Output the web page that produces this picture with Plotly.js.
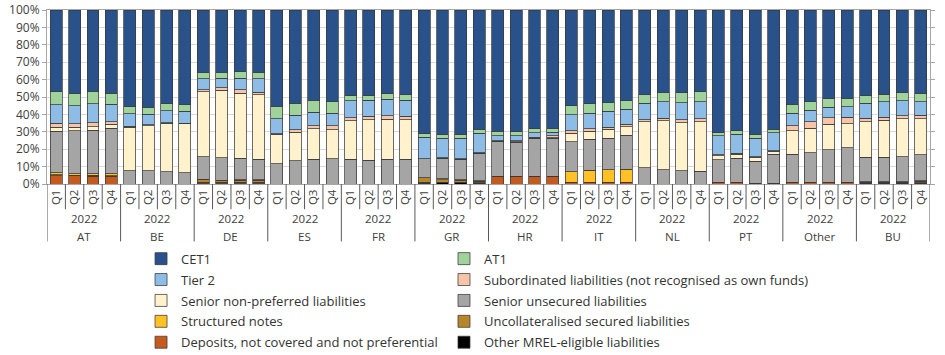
<!DOCTYPE html>
<html>
<head>
<meta charset="utf-8">
<script src="https://cdn.plot.ly/plotly-3.0.1.min.js"></script>
<style>html,body{margin:0;padding:0;background:#fff;}</style>
</head>
<body>
<div id="chart" style="width:945px;height:355px;"></div>
<script>
// ---- DATA ----
var countries = ["AT","BE","DE","ES","FR","GR","HR","IT","NL","PT","Other","BU"];
var year = "2022";
var quarters = ["Q1","Q2","Q3","Q4"];

// values per bar, ordered country by country, Q1..Q4 (in %)
var otherMrel = [0,0,0,0, 0,0,0,0, 0.2,0.2,0.2,0.2, 0,0,0,0, 0,0,0,0, 0.5,0.6,0.6,0.4, 0,0,0,0, 0,0,0,0, 0,0,0,0, 0,0,0.2,0.2, 0,0,0,0, 0.3,0.3,0.3,0.3];
var deposits  = [4.8,4.8,4.6,4.4, 0,0,0,0, 0.9,0.9,0.9,0.9, 0,0,0,0, 0,0,0,0, 0.5,0.4,0.3,0.3, 4.4,4.4,4.4,4.4, 1.1,0.9,0.9,0.9, 0,0,0,0, 0.9,0.9,0.3,0.3, 1.1,1.0,1.0,1.0, 0.3,0.3,0.3,0.3];
var uncollat  = [0.6,0.3,0.4,0.3, 0,0,0,0, 1.4,1.0,1.2,1.2, 0,0,0,0, 0,0,0,0, 2.5,1.5,1.2,1.0, 0,0,0,0, 0,0,0,0, 0,0,0,0, 0,0,0,0, 0,0,0,0, 0.5,0.5,0.5,0.9];
var structured= [1.2,0.8,0.9,1.2, 0,0,0,0, 0.3,0.2,0.2,0.2, 0,0,0,0, 0,0,0,0, 0.2,0.5,0.4,0.3, 0,0,0,0, 5.8,6.9,7.3,7.7, 0,0,0,0, 0,0,0,0, 0,0,0,0, 0.1,0.1,0.1,0.4];
var seniorUns = [23.7,24.7,24.9,26.2, 7.6,7.6,6.9,6.5, 13.0,12.7,12.4,11.8, 11.5,13.4,14.3,14.5, 14.1,13.6,14.3,14.3, 10.7,11.9,11.8,15.8, 19.8,19.6,21.6,22.0, 17.5,18.0,18.2,19.3, 9.4,8.2,7.7,7.2, 13.0,14.0,12.5,16.7, 16.1,17.0,18.8,19.7, 14.1,14.3,14.6,14.9];
var seniorNP  = [2.4,2.1,2.2,2.1, 25.1,26.0,28.0,28.1, 37.2,38.8,37.3,36.9, 17.0,16.4,17.4,16.8, 22.2,23.3,23.0,22.6, 0,0,0,0, 0.4,0.4,0.3,0.2, 4.9,4.4,5.2,5.1, 26.3,28.1,27.6,28.7, 2.4,2.2,2.4,1.6, 13.4,13.9,14.6,13.9, 20.6,21.0,21.7,20.7];
var subord    = [2.3,1.9,2.3,1.7, 0.4,0.4,0.4,0.4, 1.3,1.4,1.9,1.6, 0.5,1.4,1.7,2.1, 1.9,1.9,1.9,1.9, 0.1,0.1,0.1,0.1, 0.4,0.5,0.7,1.2, 1.3,1.5,1.1,1.4, 1.2,1.6,1.6,1.6, 0.5,0.7,0.4,0.3, 2.8,3.9,3.6,3.8, 1.9,1.9,1.7,1.9];
var tier2     = [10.6,10.3,10.8,10.0, 7.2,6.2,6.9,6.7, 6.3,5.5,6.7,7.6, 8.4,8.2,7.9,7.3, 9.6,9.2,9.6,9.2, 12.3,11.4,12.0,11.4, 2.7,2.7,2.6,1.9, 9.2,9.0,9.0,8.6, 9.4,9.5,9.8,9.9, 10.9,10.9,10.6,10.5, 7.3,6.6,6.2,6.1, 8.5,9.0,8.6,8.0];
var at1       = [7.3,7.3,7.1,6.3, 4.1,4.0,3.9,3.8, 3.6,3.5,3.8,3.8, 7.4,7.1,6.9,6.7, 2.9,2.8,3.0,3.2, 2.0,1.9,2.2,2.2, 2.5,2.5,2.1,2.3, 5.1,5.4,5.3,4.8, 4.9,5.2,5.7,5.7, 1.9,1.9,2.2,2.0, 5.2,5.0,4.8,4.8, 4.3,4.2,4.6,4.8];
var cet1      = [47.1,47.8,46.8,47.8, 55.6,55.8,53.9,54.5, 35.8,35.8,35.4,35.8, 55.2,53.5,51.8,52.6, 49.3,49.2,48.2,48.8, 71.2,71.7,71.4,68.5, 69.8,69.9,68.3,68.0, 55.1,53.9,53.0,52.2, 48.8,47.4,47.6,46.9, 70.4,69.4,71.4,68.4, 54.1,52.6,51.0,50.7, 49.4,48.4,47.6,47.8];

var seriesNames = ["Other MREL-eligible liabilities","Deposits, not covered and not preferential","Uncollateralised secured liabilities","Structured notes","Senior unsecured liabilities","Senior non-preferred liabilities","Subordinated liabilities (not recognised as own funds)","Tier 2","AT1","CET1"];
var seriesValues = [otherMrel, deposits, uncollat, structured, seniorUns, seniorNP, subord, tier2, at1, cet1];
var seriesColors = ["#000000","#c55a1f","#b8862a","#ffc125","#a5a5a5","#fff2cc","#f8c4a8","#8dbde6","#9fd39b","#29528a"];
// legend placement: column (1 = left, 2 = right) and rank
var legendCol  = [2,1,2,1,2,1,2,1,2,1];
var legendRank = [5,5,4,4,3,3,2,2,1,1];

// ---- BUILD ----
var nBars = countries.length * quarters.length;
var xIdx = [], tickText = [];
for (var i = 0; i < nBars; i++) { xIdx.push(i); tickText.push(quarters[i % quarters.length]); }

var traces = seriesNames.map(function(name, k) {
  return {
    type: 'bar', name: name, x: xIdx, y: seriesValues[k],
    marker: {color: seriesColors[k], line: {color: '#3a3a3a', width: 0.75}},
    legend: legendCol[k] === 1 ? 'legend' : 'legend2',
    legendgroup: 'g' + k, legendrank: legendRank[k],
    hoverinfo: 'name+y'
  };
});

var shapes = [];
for (var b = 0; b <= nBars; b++) {
  var edge = (b % quarters.length === 0);
  shapes.push({type: 'line', xref: 'x', yref: 'paper', x0: b - 0.5, x1: b - 0.5,
    y0: 0, y1: edge ? -0.33 : -0.145, line: {color: '#595959', width: 1}});
}
var annotations = [];
countries.forEach(function(c, g) {
  var cx = g * quarters.length + (quarters.length - 1) / 2;
  annotations.push({xref: 'x', yref: 'paper', x: cx, y: -0.201, text: year, showarrow: false,
    yanchor: 'middle', font: {size: 11.5, color: '#404040'}});
  annotations.push({xref: 'x', yref: 'paper', x: cx, y: -0.299, text: c, showarrow: false,
    yanchor: 'middle', font: {size: 11.5, color: '#404040'}});
});

var legendBase = {orientation: 'v', traceorder: 'grouped', tracegroupgap: 1,
  bgcolor: 'rgba(0,0,0,0)', font: {size: 13, color: '#333333'}, yanchor: 'top', xanchor: 'left', y: -0.343};

var layout = {
  width: 945, height: 355,
  margin: {l: 47, r: 15, t: 10, b: 171, autoexpand: false},
  font: {family: '"Open Sans", "DejaVu Sans", sans-serif', color: '#404040'},
  paper_bgcolor: '#ffffff', plot_bgcolor: '#ffffff',
  barmode: 'stack', barnorm: 'percent', bargap: 0.35,
  showlegend: true,
  legend: Object.assign({}, legendBase, {x: 0.1065}),
  legend2: Object.assign({}, legendBase, {x: 0.4496}),
  xaxis: {range: [-0.5, nBars - 0.5], tickmode: 'array', tickvals: xIdx, ticktext: tickText,
    tickangle: -90, tickfont: {size: 11.5, color: '#404040'}, showgrid: false, zeroline: false,
    showline: true, linecolor: '#a6a6a6', linewidth: 1, mirror: true, ticks: '', fixedrange: true},
  yaxis: {range: [0, 100], dtick: 10, ticksuffix: '%', tickfont: {size: 12, color: '#404040'},
    showgrid: true, gridcolor: '#d9d9d9', gridwidth: 1, zeroline: false,
    showline: true, linecolor: '#a6a6a6', linewidth: 1, mirror: 'ticks',
    ticks: 'outside', ticklen: 4, tickcolor: '#a6a6a6', fixedrange: true},
  shapes: shapes,
  annotations: annotations
};

Plotly.newPlot('chart', traces, layout, {displayModeBar: false, staticPlot: true});
</script>
</body>
</html>
